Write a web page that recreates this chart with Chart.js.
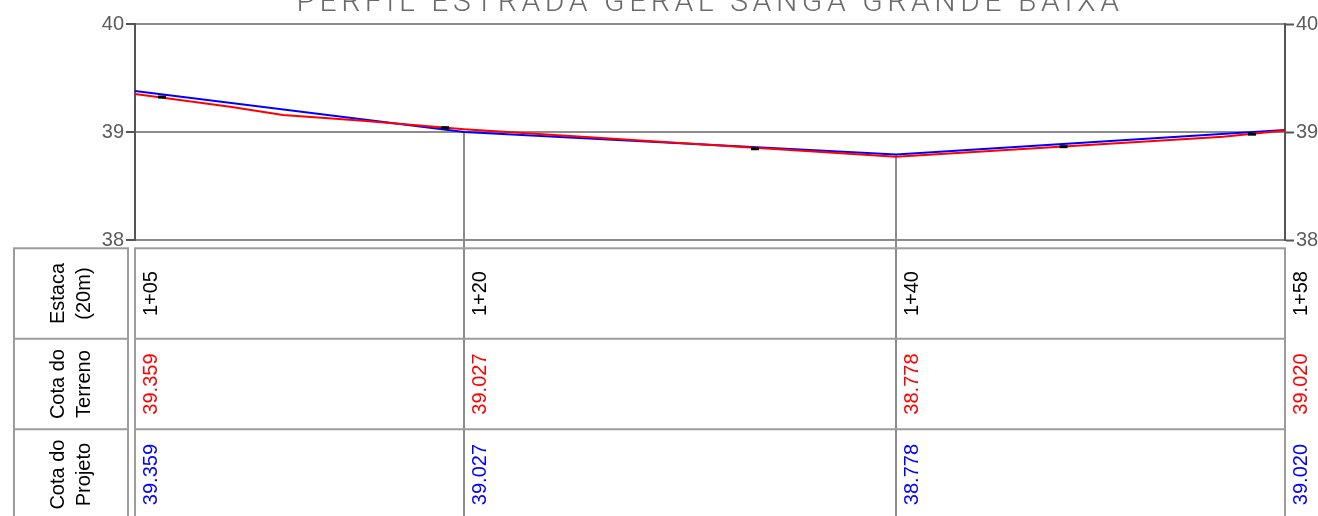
<!DOCTYPE html>
<html>
<head>
<meta charset="utf-8">
<script src="https://cdn.jsdelivr.net/npm/chart.js@4/dist/chart.umd.min.js"></script>
<style>
    html, body { margin: 0; padding: 0; background: #fff; }
    #wrap { width: 1318px; height: 516px; position: relative; }
</style>
</head>
<body>
<div id="wrap"><canvas id="perfil-chart"></canvas></div>
<script>
var estacaPos = [24.77, 40, 60, 78];
var estacaLabels = ['1+05', '1+20', '1+40', '1+58'];
var terrenoLabels = ['39.359', '39.027', '38.778', '39.020'];
var projetoLabels = ['39.359', '39.027', '38.778', '39.020'];

var projetoX = [24.77, 40, 60, 78];
var projetoY = [39.38, 39.0, 38.792, 39.019];

var terrenoX = [24.77, 29.17, 31.62, 35.33, 40, 60, 75.14, 78];
var terrenoY = [39.352, 39.234, 39.157, 39.105, 39.025, 38.771, 38.957, 39.014];

var marcaX = [26.02, 39.12, 53.47, 67.75, 76.47];
var marcaY = [39.324, 39.04, 38.845, 38.864, 38.98];

var yTicks = [38, 39, 40];
var titulo = 'PERFIL ESTRADA GERAL SANGA GRANDE BAIXA';

function pairs(xs, ys) {
    return xs.map(function(x, i) { return { x: x, y: ys[i] }; });
}

var FONT = "'Liberation Sans', Arial, sans-serif";
var GRID = '#8c8c8c';
var AXIS = '#555555';
var TABLE = '#9c9c9c';

// linhas verticais das estacas + tabela de cotas embaixo
var perfilPlugin = {
    id: 'perfil',
    beforeDatasetsDraw: function(chart) {
        var ctx = chart.ctx;
        var xs = chart.scales.x, ys = chart.scales.y;
        ctx.save();
        ctx.strokeStyle = GRID;
        ctx.lineWidth = 2;
        for (var i = 1; i < estacaPos.length - 1; i++) {
            var px = Math.round(xs.getPixelForValue(estacaPos[i]));
            ctx.beginPath();
            ctx.moveTo(px, ys.getPixelForValue(projetoY[i]));
            ctx.lineTo(px, chart.height);
            ctx.stroke();
        }
        ctx.restore();
    },
    afterDraw: function(chart) {
        var ctx = chart.ctx;
        var xs = chart.scales.x;
        var area = chart.chartArea;
        var rowTop = area.bottom + 8.3;
        var rowH = 90.5;
        var rows = [rowTop, rowTop + rowH, rowTop + 2 * rowH, rowTop + 3 * rowH];

        ctx.save();
        ctx.strokeStyle = TABLE;
        ctx.lineWidth = 2;
        // caixa do cabecalho
        ctx.strokeRect(14, rows[0], 114, rows[3] - rows[0]);
        // caixa dos dados
        ctx.strokeRect(area.left, rows[0], area.right - area.left, rows[3] - rows[0]);
        ctx.beginPath();
        [rows[1], rows[2]].forEach(function(ry) {
            ctx.moveTo(14, ry); ctx.lineTo(128, ry);
            ctx.moveTo(area.left, ry); ctx.lineTo(area.right, ry);
        });
        ctx.stroke();

        function vtext(str, x, cy, color) {
            ctx.save();
            ctx.translate(x, cy);
            ctx.rotate(-Math.PI / 2);
            ctx.fillStyle = color;
            ctx.font = '20px ' + FONT;
            ctx.textAlign = 'center';
            ctx.textBaseline = 'alphabetic';
            ctx.fillText(str, 0, 0);
            ctx.restore();
        }

        var heads = [['Estaca', '(20m)'], ['Cota do', 'Terreno'], ['Cota do', 'Projeto']];
        heads.forEach(function(h, r) {
            var cy = (rows[r] + rows[r + 1]) / 2;
            vtext(h[0], 64, cy, '#000');
            vtext(h[1], 90, cy, '#000');
        });

        var rowTexts = [estacaLabels, terrenoLabels, projetoLabels];
        var rowColors = ['#000', '#ff0000', '#0000ff'];
        estacaPos.forEach(function(pos, i) {
            var px = xs.getPixelForValue(pos);
            rowTexts.forEach(function(list, r) {
                var cy = (rows[r] + rows[r + 1]) / 2;
                vtext(list[i], px + 22, cy, rowColors[r]);
            });
        });

        // titulo (cortado no topo)
        ctx.fillStyle = '#6a6a6a';
        ctx.font = '300 30px Roboto, ' + FONT;
        ctx.letterSpacing = '4.6px';
        ctx.textAlign = 'center';
        ctx.textBaseline = 'alphabetic';
        ctx.fillText(titulo, (area.left + area.right) / 2, 11);
        ctx.restore();
    }
};

var context = document.getElementById('perfil-chart').getContext('2d');
var chart = new Chart(context, {
    type: 'line',
    data: {
        datasets: [
            {
                label: 'marcas',
                data: pairs(marcaX, marcaY),
                showLine: false,
                pointStyle: 'line',
                pointRadius: 4,
                pointBorderWidth: 3,
                pointBorderColor: '#000',
                pointBackgroundColor: '#000'
            },
            {
                label: 'Cota do Terreno',
                data: pairs(terrenoX, terrenoY),
                borderColor: '#ff0000',
                borderWidth: 2,
                pointRadius: 0,
                tension: 0
            },
            {
                label: 'Cota do Projeto',
                data: pairs(projetoX, projetoY),
                borderColor: '#0000ff',
                borderWidth: 2,
                pointRadius: 0,
                tension: 0
            }
        ]
    },
    options: {
        responsive: true,
        maintainAspectRatio: false,
        animation: false,
        layout: { padding: { top: 24, bottom: 276, left: 0, right: 0 } },
        plugins: {
            legend: { display: false },
            tooltip: { enabled: false },
            title: { display: false }
        },
        scales: {
            x: {
                type: 'linear',
                min: estacaPos[0],
                max: estacaPos[estacaPos.length - 1],
                display: false
            },
            y: {
                position: 'left',
                min: yTicks[0],
                max: yTicks[yTicks.length - 1],
                afterBuildTicks: function(scale) {
                    scale.ticks = yTicks.map(function(v) { return { value: v }; });
                },
                afterFit: function(scale) { scale.width = 135; },
                border: { color: AXIS, width: 2 },
                grid: { color: GRID, lineWidth: 2, tickLength: 9, tickColor: AXIS, tickWidth: 2 },
                ticks: { color: '#5c5c5c', padding: 2, font: { family: FONT, size: 20 } }
            },
            y2: {
                position: 'right',
                min: yTicks[0],
                max: yTicks[yTicks.length - 1],
                afterBuildTicks: function(scale) {
                    scale.ticks = yTicks.map(function(v) { return { value: v }; });
                },
                afterFit: function(scale) { scale.width = 33; },
                border: { color: AXIS, width: 2 },
                grid: { drawOnChartArea: false, tickLength: 9, tickColor: AXIS, tickWidth: 2 },
                ticks: { color: '#5c5c5c', padding: 2, font: { family: FONT, size: 20 } }
            }
        }
    },
    plugins: [perfilPlugin]
});
</script>
</body>
</html>
